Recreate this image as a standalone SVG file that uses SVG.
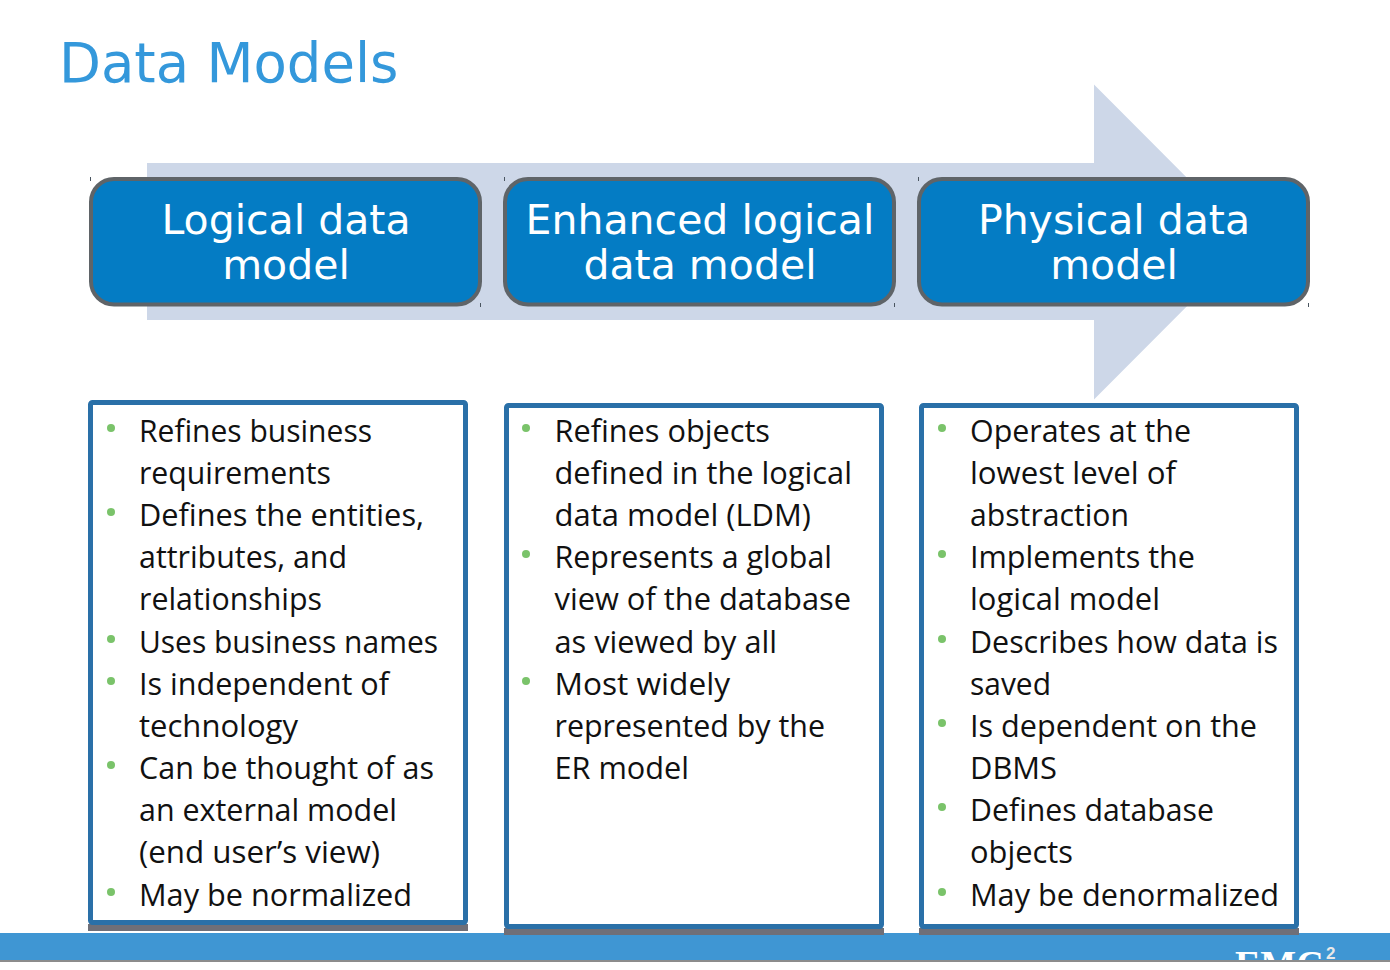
<svg xmlns="http://www.w3.org/2000/svg" width="1390" height="970" viewBox="0 0 1390 970">
<style>
.title{font:54.500px "DejaVu Sans",sans-serif;fill:#3498db}
.h{font:41px "DejaVu Sans",sans-serif;fill:#fff;text-anchor:middle}
.b{font:30.500px "Open Sans",sans-serif;fill:#111}
.d{fill:#7ac36a}
.hb{fill:#047cc4;stroke:#5f6468;stroke-width:4}
.card{fill:#fff;stroke:#2a70a8;stroke-width:5}
.sh{fill:#6f6f78}
.t{stroke:#4a5560;stroke-width:1}
</style>
<defs><clipPath id="fc"><rect y="933" width="1390" height="27"/></clipPath></defs>
<rect width="1390" height="970" fill="#fff"/>
<rect y="933" width="1390" height="27" fill="#3f96d3"/>
<rect y="960" width="1390" height="2" fill="#8c8c8c"/>
<g clip-path="url(#fc)"><text x="1235" y="977" font-family="Liberation Serif,serif" font-size="38" font-weight="bold" fill="#fff">EMC</text></g>
<text x="1326" y="959" font-family="Liberation Sans,sans-serif" font-size="17" font-weight="bold" fill="#e8e8e8">2</text>
<text class="title" x="59" y="82">Data Models</text>
<g id="connectors"><polygon points="147,163 1094,163 1094,84.500 1251,242 1094,399.500 1094,320 147,320" fill="#cdd7e8"/></g>
<g id="n1"><path class="t" d="M90.500 177v4M480.500 303v4"/><rect class="hb" x="91" y="179" width="389" height="125.500" rx="23"/><text class="h" x="286" y="234">Logical data</text><text class="h" x="286" y="278.500">model</text></g>
<g id="n2"><path class="t" d="M504.500 177v4M894.500 303v4"/><rect class="hb" x="505" y="179" width="389" height="125.500" rx="23"/><text class="h" x="700" y="234">Enhanced logical</text><text class="h" x="700" y="278.500">data model</text></g>
<g id="n3"><path class="t" d="M918.500 177v4M1308.500 303v4"/><rect class="hb" x="919" y="179" width="389" height="125.500" rx="23"/><text class="h" x="1114" y="234">Physical data</text><text class="h" x="1114" y="278.500">model</text></g>
<g id="c1"><rect class="sh" x="88" y="924" width="380" height="7"/><rect class="card" x="90.500" y="402.500" width="375" height="520" rx="2"/>
<g class="b"><text x="139" y="442" textLength="233" lengthAdjust="spacingAndGlyphs">Refines business</text><text x="139" y="484" textLength="192" lengthAdjust="spacingAndGlyphs">requirements</text><text x="139" y="526" textLength="285" lengthAdjust="spacingAndGlyphs">Defines the entities,</text><text x="139" y="568" textLength="208" lengthAdjust="spacingAndGlyphs">attributes, and</text><text x="139" y="610" textLength="183" lengthAdjust="spacingAndGlyphs">relationships</text><text x="139" y="653" textLength="299" lengthAdjust="spacingAndGlyphs">Uses business names</text><text x="139" y="695" textLength="250" lengthAdjust="spacingAndGlyphs">Is independent of</text><text x="139" y="737" textLength="159" lengthAdjust="spacingAndGlyphs">technology</text><text x="139" y="779" textLength="295" lengthAdjust="spacingAndGlyphs">Can be thought of as</text><text x="139" y="821" textLength="258" lengthAdjust="spacingAndGlyphs">an external model</text><text x="139" y="863" textLength="241" lengthAdjust="spacingAndGlyphs">(end user’s view)</text><text x="139" y="906" textLength="273" lengthAdjust="spacingAndGlyphs">May be normalized</text></g>
<circle class="d" cx="111" cy="428" r="4"/><circle class="d" cx="111" cy="512" r="4"/><circle class="d" cx="111" cy="639" r="4"/><circle class="d" cx="111" cy="681" r="4"/><circle class="d" cx="111" cy="765" r="4"/><circle class="d" cx="111" cy="892" r="4"/></g>
<g id="c2"><rect class="sh" x="504" y="928" width="380" height="7"/><rect class="card" x="506.500" y="405.500" width="375" height="521" rx="2"/>
<g class="b"><text x="554.500" y="442" textLength="215.500" lengthAdjust="spacingAndGlyphs">Refines objects</text><text x="554.500" y="484" textLength="297.500" lengthAdjust="spacingAndGlyphs">defined in the logical</text><text x="554.500" y="526" textLength="256.500" lengthAdjust="spacingAndGlyphs">data model (LDM)</text><text x="554.500" y="568" textLength="277.500" lengthAdjust="spacingAndGlyphs">Represents a global</text><text x="554.500" y="610" textLength="296.500" lengthAdjust="spacingAndGlyphs">view of the database</text><text x="554.500" y="653" textLength="222.500" lengthAdjust="spacingAndGlyphs">as viewed by all</text><text x="554.500" y="695" textLength="175.500" lengthAdjust="spacingAndGlyphs">Most widely</text><text x="554.500" y="737" textLength="270.500" lengthAdjust="spacingAndGlyphs">represented by the</text><text x="554.500" y="779" textLength="134.500" lengthAdjust="spacingAndGlyphs">ER model</text></g>
<circle class="d" cx="526" cy="428" r="4"/><circle class="d" cx="526" cy="554" r="4"/><circle class="d" cx="526" cy="681" r="4"/></g>
<g id="c3"><rect class="sh" x="919" y="928" width="380" height="7"/><rect class="card" x="921.500" y="405.500" width="375" height="521" rx="2"/>
<g class="b"><text x="970" y="442" textLength="221" lengthAdjust="spacingAndGlyphs">Operates at the</text><text x="970" y="484" textLength="206" lengthAdjust="spacingAndGlyphs">lowest level of</text><text x="970" y="526" textLength="159" lengthAdjust="spacingAndGlyphs">abstraction</text><text x="970" y="568" textLength="225" lengthAdjust="spacingAndGlyphs">Implements the</text><text x="970" y="610" textLength="190" lengthAdjust="spacingAndGlyphs">logical model</text><text x="970" y="653" textLength="308" lengthAdjust="spacingAndGlyphs">Describes how data is</text><text x="970" y="695" textLength="81" lengthAdjust="spacingAndGlyphs">saved</text><text x="970" y="737" textLength="287" lengthAdjust="spacingAndGlyphs">Is dependent on the</text><text x="970" y="779" textLength="87" lengthAdjust="spacingAndGlyphs">DBMS</text><text x="970" y="821" textLength="244" lengthAdjust="spacingAndGlyphs">Defines database</text><text x="970" y="863" textLength="103" lengthAdjust="spacingAndGlyphs">objects</text><text x="970" y="906" textLength="309" lengthAdjust="spacingAndGlyphs">May be denormalized</text></g>
<circle class="d" cx="942" cy="428" r="4"/><circle class="d" cx="942" cy="554" r="4"/><circle class="d" cx="942" cy="639" r="4"/><circle class="d" cx="942" cy="723" r="4"/><circle class="d" cx="942" cy="807" r="4"/><circle class="d" cx="942" cy="892" r="4"/></g>
</svg>
